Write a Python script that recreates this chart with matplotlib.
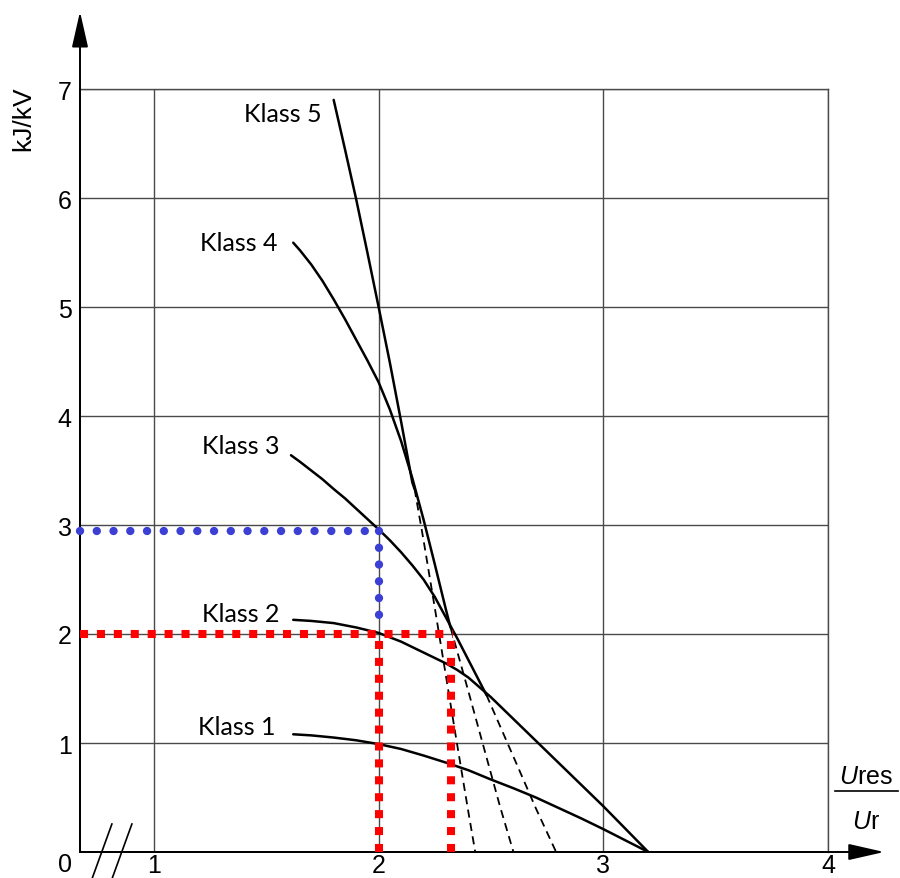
import matplotlib.pyplot as plt
from matplotlib.lines import Line2D

plt.rcParams['font.family'] = ['Liberation Sans', 'DejaVu Sans']
plt.rcParams['mathtext.fontset'] = 'custom'
plt.rcParams['mathtext.it'] = 'Liberation Sans:italic'
plt.rcParams['mathtext.rm'] = 'Liberation Sans'

# curves (x = Ures/Ur, y = kJ/kV)
klass1_x = [1.62, 1.70, 1.80, 1.90, 2.00, 2.10, 2.20, 2.30, 2.40, 2.50,
            2.60, 2.70, 2.80, 2.90, 3.00, 3.10, 3.20]
klass1_y = [1.08, 1.07, 1.05, 1.025, 0.99, 0.945, 0.885, 0.82, 0.75, 0.665,
            0.585, 0.50, 0.405, 0.31, 0.21, 0.105, 0.00]

klass2_x = [1.62, 1.70, 1.80, 1.90, 2.00, 2.10, 2.20, 2.30, 2.35, 2.40,
            2.45, 2.50, 2.55, 2.60, 2.70, 2.80, 2.90, 3.00, 3.10, 3.20]
klass2_y = [2.13, 2.12, 2.10, 2.06, 2.01, 1.93, 1.83, 1.73, 1.67, 1.60,
            1.51, 1.42, 1.32, 1.22, 1.02, 0.82, 0.62, 0.42, 0.21, 0.00]

klass3_x = [1.61, 1.65, 1.70, 1.75, 1.80, 1.85, 1.90, 1.95, 2.00, 2.05,
            2.10, 2.15, 2.20, 2.25, 2.30, 2.35, 2.40, 2.45, 2.48]
klass3_y = [3.64, 3.58, 3.50, 3.42, 3.33, 3.245, 3.15, 3.055, 2.96, 2.86,
            2.75, 2.63, 2.50, 2.34, 2.15, 1.96, 1.76, 1.56, 1.44]
klass3_dash_x = [2.48, 2.55, 2.62, 2.70, 2.79]
klass3_dash_y = [1.44, 1.11, 0.78, 0.40, 0.00]

klass4_x = [1.62, 1.65, 1.70, 1.75, 1.80, 1.85, 1.90, 1.95, 2.00, 2.05,
            2.10, 2.15, 2.20, 2.25, 2.30, 2.32]
klass4_y = [5.59, 5.52, 5.39, 5.24, 5.07, 4.89, 4.70, 4.51, 4.31, 4.06,
            3.77, 3.43, 3.05, 2.64, 2.22, 2.06]
klass4_dash_x = [2.32, 2.40, 2.48, 2.54, 2.60]
klass4_dash_y = [2.06, 1.47, 0.87, 0.42, 0.00]

klass5_x = [1.80, 1.85, 1.90, 1.95, 2.00, 2.05, 2.10, 2.15, 2.16]
klass5_y = [6.90, 6.45, 5.99, 5.50, 5.00, 4.49, 3.95, 3.39, 3.33]
klass5_dash_x = [2.16, 2.20, 2.25, 2.30, 2.35, 2.40, 2.43]
klass5_dash_y = [3.33, 2.86, 2.24, 1.61, 0.98, 0.36, 0.00]

klass_names = ['Klass 1', 'Klass 2', 'Klass 3', 'Klass 4', 'Klass 5']

# reading example lines
red_level = 2.0
red_x = [2.0, 2.323]
blue_level = 2.945
blue_x = 2.0
blue_bottom = 2.17

x_ticks = [1, 2, 3, 4]
y_ticks = [1, 2, 3, 4, 5, 6, 7]
x_left = 0.671  # where the broken axis starts ("0")

fig = plt.figure(figsize=(9, 8.79), dpi=100)
ax = fig.add_axes([80 / 900, 26 / 879, 748 / 900, 763 / 879])
ax.set_xlim(x_left, 4.0)
ax.set_ylim(0, 7)
ax.set_xticks(x_ticks)
ax.set_xticklabels([str(t) for t in x_ticks])
ax.set_yticks(y_ticks)
ax.set_yticklabels([str(t) for t in y_ticks])
ax.tick_params(length=0, labelsize=18)
ax.tick_params(axis='x', pad=1)
ax.tick_params(axis='y', pad=6)
ax.grid(True, color='#4a4a4a', lw=1.0)
ax.set_axisbelow(True)
for s in ['top', 'right']:
    ax.spines[s].set_color('#4a4a4a')
    ax.spines[s].set_linewidth(1.0)
for s in ['left', 'bottom']:
    ax.spines[s].set_color('black')
    ax.spines[s].set_linewidth(1.4)

solid = dict(color='black', lw=1.8, solid_capstyle='round',
             solid_joinstyle='round', zorder=3)
dashed = dict(color='black', lw=1.3, ls=(0, (4.5, 3)), zorder=3)
ax.plot(klass1_x, klass1_y, **solid)
ax.plot(klass2_x, klass2_y, **solid)
ax.plot(klass3_x, klass3_y, **solid)
ax.plot(klass4_x, klass4_y, **solid)
ax.plot(klass5_x, klass5_y, **solid)
ax.plot(klass3_dash_x, klass3_dash_y, **dashed)
ax.plot(klass4_dash_x, klass4_dash_y, **dashed)
ax.plot(klass5_dash_x, klass5_dash_y, **dashed)

# class labels, right aligned just left of each curve start
label_pos = [(1.542, 1.08), (1.56, 2.12), (1.56, 3.66), (1.551, 5.52), (1.747, 6.71)]
for name, (lx, ly) in zip(klass_names, label_pos):
    ax.text(lx, ly, name, ha='right', va='baseline', fontsize=18,
            family=['Lato', 'DejaVu Sans'])

# blue round dots
blue = dict(color='#3b3fd4', lw=6, ls=(0, (0.01, 2.0)),
            dash_capstyle='round', zorder=4, clip_on=False)
ax.plot([x_left, blue_x], [blue_level, blue_level], **blue)
ax.plot([blue_x, blue_x], [blue_level, blue_bottom], **blue)

# red square dots
red = dict(color='#ff0000', lw=5.8, ls=(0, (1, 1.1)),
           dash_capstyle='butt', zorder=5, clip_on=False)
ax.plot([x_left, red_x[1] + 0.01], [red_level, red_level], **red)
for rx in red_x:
    ax.plot([rx, rx], [0, red_level], **red)

# axis arrows
arrow = dict(arrowstyle='-|>,head_length=1.1,head_width=0.25', color='black',
             lw=1.4, shrinkA=0, shrinkB=0, mutation_scale=20)
ax.annotate('', xy=(4.25, 0), xytext=(x_left, 0), arrowprops=arrow,
            annotation_clip=False)
ax.annotate('', xy=(x_left, 7.71), xytext=(x_left, 0), arrowprops=arrow,
            annotation_clip=False)

# axis break marks
for off in [0.0, 0.089]:
    ax.plot([0.813 + off, 0.716 + off], [0.257, -0.294], color='black',
            lw=1.2, clip_on=False, zorder=6)

ax.text(0.604, -0.11, '0', ha='center', va='center', fontsize=18, clip_on=False)

fig.text(23 / 900, 1 - 119 / 879, 'kJ/kV', rotation=90, ha='center',
         va='center', fontsize=19)
fig.text(866 / 900, 1 - 777 / 879, r'$U$res', ha='center', va='center', fontsize=18)
fig.add_artist(Line2D([835 / 900, 898 / 900], [1 - 792 / 879, 1 - 792 / 879],
                      color='black', lw=1.2))
fig.text(866 / 900, 1 - 822 / 879, r'$U$r', ha='center', va='center', fontsize=18)

fig.savefig('out.png', dpi=100)
